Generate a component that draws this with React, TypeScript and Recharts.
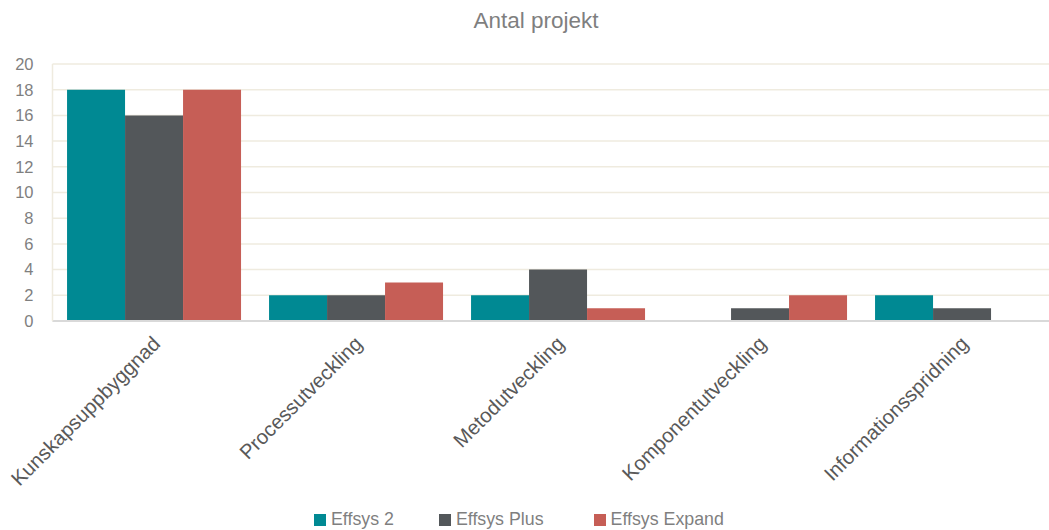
import { BarChart, Bar, XAxis, YAxis, CartesianGrid } from 'recharts';

const categories = ['Kunskapsuppbyggnad', 'Processutveckling', 'Metodutveckling', 'Komponentutveckling', 'Informationsspridning'];
const effsys2 = [18, 2, 2, 0, 2];
const effsysPlus = [16, 2, 4, 1, 1];
const effsysExpand = [18, 3, 1, 2, 0];
const yTicks = [0, 2, 4, 6, 8, 10, 12, 14, 16, 18, 20];

const series = [
  { key: 'effsys2', name: 'Effsys 2', color: '#008993' },
  { key: 'effsysPlus', name: 'Effsys Plus', color: '#53575a' },
  { key: 'effsysExpand', name: 'Effsys Expand', color: '#c65e56' },
];

const data = categories.map((name, i) => ({
  name,
  effsys2: effsys2[i],
  effsysPlus: effsysPlus[i],
  effsysExpand: effsysExpand[i],
}));

const FONT = '"Liberation Sans", Arial, sans-serif';

const XTick = ({ x, payload }: any) => {
  const tx = x + 8;
  const ty = 345;
  return (
    <text x={tx} y={ty} transform={`rotate(-45, ${tx}, ${ty})`} textAnchor="end" fill="#595959" fontSize={20.3} fontFamily={FONT}>
      {payload.value}
    </text>
  );
};

export default function App() {
  return (
    <div style={{ position: 'absolute', left: 0, top: 0, width: 1049, height: 530, overflow: 'hidden', background: '#fff', fontFamily: FONT }}>
      <div style={{ position: 'absolute', left: 0, width: 1072, top: 8, textAlign: 'center', fontSize: 22.5, color: '#7f7f7f' }}>
        Antal projekt
      </div>
      <BarChart
        width={1063}
        height={530}
        data={data}
        margin={{ top: 64, right: 0.5, left: 0, bottom: 49 }}
        barCategoryGap="7.2%"
        barGap={0}
      >
        <CartesianGrid vertical={false} stroke="#efebdf" strokeWidth={1.5} />
        <XAxis
          dataKey="name"
          interval={0}
          height={160}
          tick={<XTick />}
          tickLine={false}
          axisLine={{ stroke: '#d9d9d9', strokeWidth: 2 }}
        />
        <YAxis
          width={52.5}
          domain={[0, 20]}
          ticks={yTicks}
          interval={0}
          tickLine={false}
          tickSize={0}
          tickMargin={19}
          axisLine={{ stroke: '#efebdf', strokeWidth: 1.5 }}
          tick={{ fill: '#7f7f7f', fontSize: 16.5, fontFamily: FONT }}
        />
        {series.map((s) => (
          <Bar key={s.key} dataKey={s.key} name={s.name} fill={s.color} isAnimationActive={false} />
        ))}
      </BarChart>
      <div style={{ position: 'absolute', left: 314, top: 509, display: 'flex', alignItems: 'center', fontSize: 17.8, color: '#7f7f7f' }}>
        {series.map((s, i) => (
          <div key={s.key} style={{ display: 'flex', alignItems: 'center', marginRight: i === 0 ? 45 : 50 }}>
            <span style={{ width: 12, height: 12, background: s.color, marginRight: 5, display: 'inline-block' }} />
            <span>{s.name}</span>
          </div>
        ))}
      </div>
    </div>
  );
}
